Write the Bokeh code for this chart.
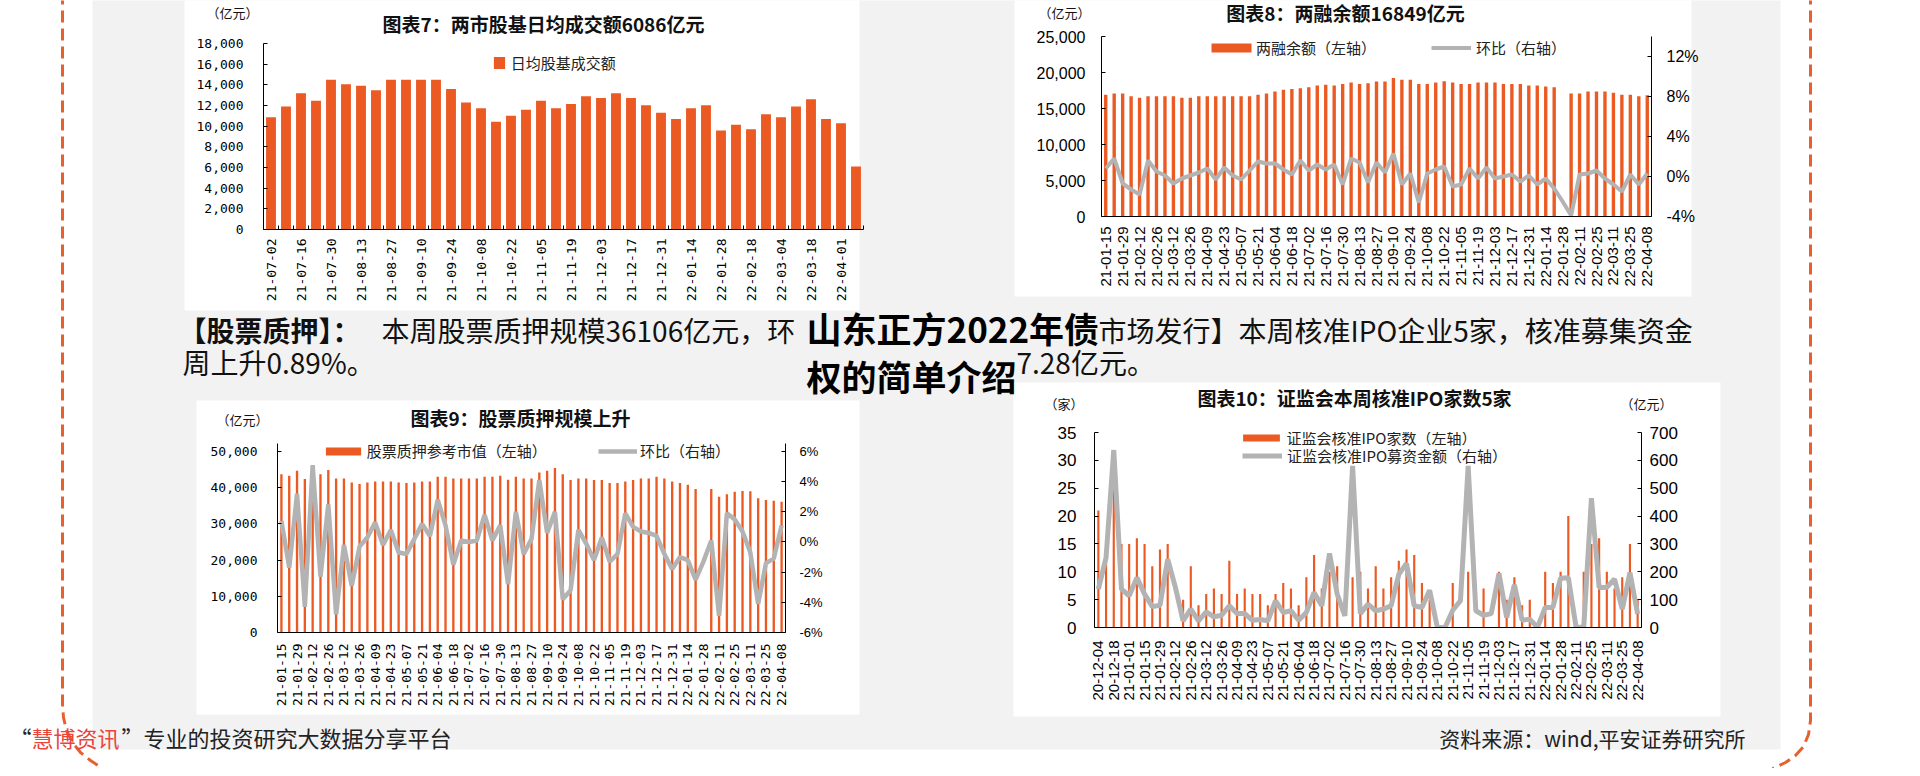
import numpy as np
from bokeh.plotting import figure
from bokeh.models import (Range1d, LinearAxis, FixedTicker, NumeralTickFormatter,
                          PrintfTickFormatter, Label, Legend, LegendItem, GridBox,
                          ColumnDataSource)
from bokeh.embed import file_html
from bokeh.resources import INLINE

# ---------------- data ----------------
c1_labels = ["21-07-02", "21-07-16", "21-07-30", "21-08-13", "21-08-27", "21-09-10",
             "21-09-24", "21-10-08", "21-10-22", "21-11-05", "21-11-19", "21-12-03",
             "21-12-17", "21-12-31", "22-01-14", "22-01-28", "22-02-18", "22-03-04",
             "22-03-18", "22-04-01"]
c1_turnover = [10870, 11900, 13180, 12470, 14500, 14050, 13900, 13470, 14500, 14500,
               14500, 14500, 13600, 12300, 11740, 10420, 11000, 11600, 12470, 11740,
               12150, 12900, 12730, 13180, 12730, 12030, 11290, 10700, 11740, 12030,
               9580, 10130, 9710, 11160, 10870, 11900, 12600, 10700, 10290, 6086]

c2_labels = ["21-01-15", "21-01-29", "21-02-12", "21-02-26", "21-03-12", "21-03-26",
             "21-04-09", "21-04-23", "21-05-07", "21-05-21", "21-06-04", "21-06-18",
             "21-07-02", "21-07-16", "21-07-30", "21-08-13", "21-08-27", "21-09-10",
             "21-09-24", "21-10-08", "21-10-22", "21-11-05", "21-11-19", "21-12-03",
             "21-12-17", "21-12-31", "22-01-14", "22-01-28", "22-02-11", "22-02-25",
             "22-03-11", "22-03-25", "22-04-08"]
c2_margin_bal = [16900, 17100, 17100, 16700, 16500, 16700, 16700, 16700, 16700, 16500,
                 16500, 16700, 16700, 16700, 16700, 16700, 16700, 16700, 16900, 17100,
                 17350, 17600, 17700, 17800, 17950, 18200, 18300, 18200, 18400, 18600,
                 18400, 18500, 18750, 18750, 19250, 19000, 19000, 18400, 18400, 18600,
                 18800, 18600, 18400, 18400, 18600, 18600, 18600, 18400, 18400, 18400,
                 18200, 18200, 18050, 17950, np.nan, 17100, 17100, 17350, 17350, 17350,
                 17200, 16900, 16900, 16700, 16849]
c2_wow = [0.8, 1.8, -0.7, -1.3, -1.8, 1.6, 0.5, 0.1, -0.7, -0.2,
          0.1, 0.4, 0.8, -0.3, 0.9, 0.1, -0.3, 0.6, 1.5, 1.3,
          1.3, 0.7, 0.2, 1.6, 0.6, 1.2, 0.7, 1.2, -0.8, 1.8,
          1.4, -0.6, 1.4, 0.4, 2.3, -0.8, 0.3, -2.6, 0.3, 0.7,
          1.0, -1.0, -0.8, 0.8, -0.2, 0.9, -0.2, 0.0, 0.2, -0.5,
          0.1, -0.8, -0.2, -1.2, -2.5, -3.9, 0.2, 0.3, 0.6, -0.2,
          -0.8, -1.5, 0.2, -0.8, 0.3]

c3_labels = list(c2_labels)
c3_pledge = [43700, 43300, 44700, 42400, 43500, 43700, 44900, 42500, 42500, 41400,
             41000, 41400, 41700, 41700, 41700, 41400, 41300, 41400, 41700, 41700,
             43000, 43000, 42500, 42500, 42500, 42500, 43000, 43000, 43300, 42200,
             43000, 42500, 42500, 44200, 44700, 45400, 43700, 42100, 42500, 42500,
             42100, 42100, 41300, 41300, 41700, 42100, 42500, 42500, 43000, 42500,
             41700, 41300, 40800, 39600, np.nan, 39600, 37500, 38200, 38900, 39100,
             39000, 37100, 36600, 36400, 36106]
c3_wow = [1.4, -1.7, 3.2, -4.3, 5.1, -2.3, 2.5, -4.8, -0.2, -2.9,
          -0.3, 0.3, 1.3, -0.2, 0.8, -0.7, -0.8, 0.2, 1.2, 0.4,
          2.8, 1.1, -1.5, 0.1, 0.0, 0.1, 1.8, 0.1, 1.1, -2.8,
          2.0, -0.8, 0.2, 4.1, 0.6, 2.0, -3.8, -3.2, 0.8, -0.1,
          -1.2, 0.3, -1.3, -0.8, 1.9, 1.0, 0.7, 0.6, 0.4, -0.8,
          -1.8, -1.0, -1.2, -2.5, -1.3, 0.1, -4.9, 1.9, 1.5, 0.7,
          -0.7, -4.1, -1.4, -1.1, 1.1]

c4_labels = ["20-12-04", "20-12-18", "21-01-01", "21-01-15", "21-01-29", "21-02-12",
             "21-02-26", "21-03-12", "21-03-26", "21-04-09", "21-04-23", "21-05-07",
             "21-05-21", "21-06-04", "21-06-18", "21-07-02", "21-07-16", "21-07-30",
             "21-08-13", "21-08-27", "21-09-10", "21-09-24", "21-10-08", "21-10-22",
             "21-11-05", "21-11-19", "21-12-03", "21-12-17", "21-12-31", "22-01-14",
             "22-01-28", "22-02-11", "22-02-25", "22-03-11", "22-03-25", "22-04-08"]
c4_ipo_count = [21, 12, 26, 15, 15, 16, 15, 11, 14, 15,
                0, 5, 11, 4, 6, 7, 6, 12, 6, 7,
                6, 6, 4, 6, 8, 7, 4, 9, 13, 7,
                10, 11, 0, 9, 10, 7, 11, 7, 9, 12,
                14, 13, 8, 5, 0, 0, 8, 0, 10, 0,
                7, 0, 10, 5, 9, 4, 5, 0, 10, 8,
                10, 20, 0, 10, 15, 16, 10, 7, 9, 15, 5]
c4_ipo_amount = [138, 251, 637, 138, 114, 179, 120, 75, 80, 245,
                 144, 24, 66, 24, 56, 38, 44, 78, 50, 50,
                 26, 29, 24, 96, 54, 60, 26, 54, 126, 78,
                 266, 120, 42, 580, 50, 84, 60, 66, 78, 191,
                 230, 78, 72, 134, 0, 0, 62, 96, 580, 60,
                 44, 50, 194, 36, 153, 26, 30, 0, 72, 72,
                 177, 179, 2, 0, 464, 144, 144, 174, 66, 197, 48.28]

# ---------------- styling ----------------
ORANGE = "#EC5A24"
GRAY = "#B3B3B3"
CJK = "Noto Sans CJK SC"
MONO = "DejaVu Sans Mono"
SANS = "Liberation Sans"
OFF = 8  # page margin


def no_align(p):
    if "frame_align" in p.properties():
        p.frame_align = False


# ---------------- page background (whole window) ----------------
bg = figure(width=1920 - 2 * OFF, height=776 - OFF, x_range=Range1d(OFF, 1920 - OFF),
            y_range=Range1d(776, OFF), output_backend="svg", toolbar_location=None,
            min_border=0, x_axis_location=None, y_axis_location=None,
            outline_line_color=None, background_fill_color="white",
            border_fill_color="white")
bg.grid.visible = False
bg.title.visible = False
no_align(bg)
bg.quad(left=[100], right=[1788], top=[0], bottom=[757], fill_color="#F2F2F2", line_color=None)
# white chart panels
bg.quad(left=[192, 1022, 204, 1021], right=[867, 1699, 867, 1728],
        top=[0, 0, 408, 390], bottom=[318, 304, 722, 724],
        fill_color="white", line_color=None)
DASH = "#E8602C"
bg.line([70, 70, 71, 74, 80, 88, 98, 110], [0, 712, 725, 738, 750, 760, 768, 776],
        line_color=DASH, line_width=3, line_dash="12 6")
bg.line([1818, 1818, 1816, 1811, 1803, 1793, 1780], [0, 728, 742, 754, 763, 770, 776],
        line_color=DASH, line_width=3, line_dash="12 6")


def text(x, y, s, size, bold=False, align="left", font=CJK, color="#111111"):
    bg.add_layout(Label(x=x, y=y, text=s, text_font=font, text_font_size=f"{size}px",
                        text_font_style="bold" if bold else "normal", text_align=align,
                        text_baseline="middle", text_color=color))


def chart(panel, frame, n, yr):
    L, T, R, B = panel
    fl, ft, fr, fb = frame
    p = figure(frame_width=fr - fl, frame_height=fb - ft, x_range=Range1d(-0.5, n - 0.5),
               y_range=Range1d(*yr), output_backend="svg", toolbar_location=None,
               min_border_left=fl - L, min_border_right=R - fr,
               min_border_top=ft - T, min_border_bottom=B - fb,
               outline_line_color=None, background_fill_color=None,
               border_fill_color=None)
    no_align(p)
    p.title.visible = False
    p.margin = (T, 0, 0, L)
    p.align = "start"
    p.xgrid.visible = False
    p.ygrid.visible = False
    return p


def legend(p, frame, renderer, label, left_px, cy_px, w, h, gap, bar=True, size=15):
    fl, ft, fr, fb = frame
    lh = 20
    if bar:
        gw, gh = w / 0.8, h / 0.8
        left = left_px - 0.1 * gw
        standoff = gap - 0.1 * gw
    else:
        gw, gh = w, h
        left = left_px
        standoff = gap
    leg = Legend(items=[LegendItem(label=label, renderers=[renderer])],
                 location=(left - fl, fb - (cy_px + lh / 2)), orientation="horizontal",
                 border_line_color=None, background_fill_alpha=0, padding=0, margin=0,
                 glyph_width=int(round(gw)), glyph_height=int(round(gh)),
                 label_standoff=max(0, int(round(standoff))), label_height=lh, spacing=0,
                 label_text_font=CJK, label_text_font_size=f"{size}px",
                 label_text_color="#222222")
    p.add_layout(leg)


def style_x(p, n, labels, font, size, standoff, minor=False):
    ax = p.xaxis[0]
    ticks = list(range(0, n, 2))
    ax.ticker = FixedTicker(ticks=ticks,
                            minor_ticks=[i + 0.5 for i in range(-1, n)] if minor else [])
    ax.major_label_overrides = {t: lab for t, lab in zip(ticks, labels)}
    ax.major_label_orientation = np.pi / 2
    ax.major_tick_line_color = None
    ax.major_tick_in = 0
    ax.major_tick_out = 0
    if minor:
        ax.minor_tick_in = 4
        ax.minor_tick_out = 0
        ax.minor_tick_line_color = "black"
    else:
        ax.minor_tick_line_color = None
    ax.axis_line_color = "black"
    ax.major_label_text_font = font
    ax.major_label_text_font_size = f"{size}px"
    ax.major_label_text_color = "black"
    ax.major_label_standoff = standoff


def style_y(ax, ticks, fmt, font, size, standoff):
    ax.ticker = FixedTicker(ticks=ticks)
    if fmt is not None:
        ax.formatter = fmt
    ax.major_tick_in = 4
    ax.major_tick_out = 0
    ax.major_tick_line_color = "black"
    ax.minor_tick_line_color = None
    ax.axis_line_color = "black"
    ax.major_label_text_font = font
    ax.major_label_text_font_size = f"{size}px"
    ax.major_label_text_color = "black"
    ax.major_label_standoff = standoff


# ---------------- chart 1 ----------------
n1 = len(c1_turnover)
F1 = (263, 43, 863, 229)
p1 = chart((192, 0, 867, 318), F1, n1, (0, 18000))
s1 = ColumnDataSource(dict(x=list(range(n1)), y=c1_turnover))
r1 = p1.vbar(x="x", top="y", width=0.66, source=s1, fill_color=ORANGE, line_color=None)
style_x(p1, n1, c1_labels, MONO, 13, 9, minor=True)
style_y(p1.yaxis[0], list(range(0, 18001, 2000)), NumeralTickFormatter(format="0,0"), MONO, 13, 20)
legend(p1, F1, r1, "日均股基成交额", 493, 62.5, 11, 12, 6)
text(551, 31, "图表7：两市股基日均成交额6086亿元", 19, bold=True, align="center")
text(214, 20, "（亿元）", 13)

# ---------------- chart 2 ----------------
n2 = len(c2_margin_bal)
F2 = (1101, 36, 1651, 216)
p2 = chart((1022, 0, 1699, 304), F2, n2, (0, 25000))
p2.extra_y_ranges = {"r": Range1d(-4, 14)}
s2 = ColumnDataSource(dict(x=list(range(n2)), bal=c2_margin_bal, wow=c2_wow))
r2a = p2.vbar(x="x", top="bal", width=0.4, source=s2, fill_color=ORANGE, line_color=None)
r2b = p2.line(x="x", y="wow", source=s2, y_range_name="r", line_color=GRAY, line_width=4)
style_x(p2, n2, c2_labels, SANS, 15, 10)
style_y(p2.yaxis[0], list(range(0, 25001, 5000)), NumeralTickFormatter(format="0,0"), SANS, 16, 16)
ar2 = LinearAxis(y_range_name="r")
style_y(ar2, [-4, 0, 4, 8, 12], PrintfTickFormatter(format="%d%%"), SANS, 16, 15)
p2.add_layout(ar2, "right")
legend(p2, F2, r2a, "两融余额（左轴）", 1211, 48, 40, 9, 5)
legend(p2, F2, r2b, "环比（右轴）", 1431, 48, 40, 9, 5, bar=False)
text(1353, 20, "图表8：两融余额16849亿元", 19, bold=True, align="center")
text(1046, 20, "（亿元）", 13)

# ---------------- chart 3 ----------------
n3 = len(c3_pledge)
F3 = (277, 443, 785, 632)
p3 = chart((204, 408, 867, 722), F3, n3, (0, 52200))
p3.extra_y_ranges = {"r": Range1d(-6, 6.53)}
s3 = ColumnDataSource(dict(x=list(range(n3)), v=c3_pledge, wow=c3_wow))
r3a = p3.vbar(x="x", top="v", width=0.3, source=s3, fill_color=ORANGE, line_color=None)
r3b = p3.line(x="x", y="wow", source=s3, y_range_name="r", line_color=GRAY, line_width=4.5)
style_x(p3, n3, c3_labels, MONO, 13, 11)
style_y(p3.yaxis[0], list(range(0, 50001, 10000)), NumeralTickFormatter(format="0,0"), MONO, 13, 20)
ar3 = LinearAxis(y_range_name="r")
style_y(ar3, [-6, -4, -2, 0, 2, 4, 6], PrintfTickFormatter(format="%d%%"), SANS, 13, 14)
p3.add_layout(ar3, "right")
legend(p3, F3, r3a, "股票质押参考市值（左轴）", 325, 451, 35, 8, 6)
legend(p3, F3, r3b, "环比（右轴）", 598, 451, 39, 8, 3, bar=False)
text(528, 425, "图表9：股票质押规模上升", 19, bold=True, align="center")
text(224, 427, "（亿元）", 13)

# ---------------- chart 4 ----------------
n4 = len(c4_ipo_count)
F4 = (1094, 432, 1641, 627)
p4 = chart((1021, 390, 1728, 724), F4, n4, (0, 35))
p4.extra_y_ranges = {"r": Range1d(0, 700)}
s4 = ColumnDataSource(dict(x=list(range(n4)), c=c4_ipo_count, a=c4_ipo_amount))
r4a = p4.vbar(x="x", top="c", width=0.28, source=s4, fill_color=ORANGE, line_color=None)
r4b = p4.line(x="x", y="a", source=s4, y_range_name="r", line_color=GRAY, line_width=5)
style_x(p4, n4, c4_labels, SANS, 15, 13)
style_y(p4.yaxis[0], list(range(0, 36, 5)), None, SANS, 17, 18)
ar4 = LinearAxis(y_range_name="r")
style_y(ar4, list(range(0, 701, 100)), None, SANS, 17, 8)
p4.add_layout(ar4, "right")
legend(p4, F4, r4a, "证监会核准IPO家数（左轴）", 1243, 438, 37, 7, 7)
legend(p4, F4, r4b, "证监会核准IPO募资金额（右轴）", 1242, 456, 40, 7, 5, bar=False)
text(1362, 405, "图表10：证监会本周核准IPO家数5家", 19, bold=True, align="center")
text(1052, 411, "（家）", 13)
text(1628, 411, "（亿元）", 13)

# ---------------- page texts ----------------
text(186, 337, "【股票质押】：", 28, bold=True)
text(389, 337, "本周股票质押规模36106亿元，环", 28)
text(1106, 337, "市场发行】本周核准IPO企业5家，核准募集资金", 28)
text(190, 369, "周上升0.89%。", 28)
text(1024, 369, "7.28亿元。", 28)
text(814, 335, "山东正方2022年债", 35, bold=True, color="#000000")
text(814, 383, "权的简单介绍", 35, bold=True, color="#000000")
text(39, 744, "“", 22, align="right", color="#222222")
text(39, 744, "慧博资讯", 22, color="#E8453C")
text(129, 744, "”专业的投资研究大数据分享平台", 22, color="#222222")
text(1753, 745, "资料来源：wind,平安证券研究所", 21, align="right", color="#222222")

page = GridBox(children=[(bg, 0, 0), (p1, 0, 0), (p2, 0, 0), (p3, 0, 0), (p4, 0, 0)])

open("out.html", "w").write(file_html(page, INLINE))
